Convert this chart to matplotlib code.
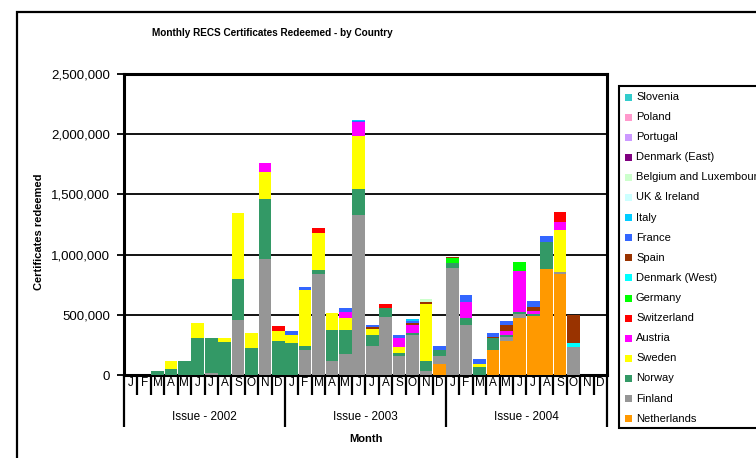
import matplotlib
matplotlib.use('Agg')
import matplotlib.pyplot as plt
from matplotlib.patches import Rectangle
from matplotlib.ticker import FuncFormatter, MultipleLocator
import matplotlib.transforms as mtrans
import numpy as np

plt.rcParams['font.family'] = ['Liberation Sans', 'DejaVu Sans']

# ---------------- data ----------------
month_labels = list("JFMAMJJASOND") * 3
year_labels = ["Issue - 2002", "Issue - 2003", "Issue - 2004"]

Z = [0] * 12
netherlands = Z + [0, 0, 0, 0, 0, 0, 0, 0, 0, 0, 0, 92000] + \
    [0, 0, 0, 207000, 280000, 475000, 487000, 878000, 839000, 0, 0, 0]
finland = [0, 0, 0, 0, 0, 0, 15000, 0, 459000, 0, 962000, 0] + \
    [0, 204000, 842000, 120000, 171000, 1328000, 238000, 484000, 154000, 333000, 31000, 62000] + \
    [889000, 419000, 0, 0, 38000, 28000, 0, 0, 17000, 235000, 0, 0]
norway = [0, 0, 35000, 50000, 120000, 308000, 290000, 271000, 335000, 224000, 503000, 285000] + \
    [265000, 34000, 33000, 252000, 201000, 218000, 95000, 72000, 28000, 17000, 84000, 50000] + \
    [39000, 51000, 67000, 100000, 17000, 17000, 16000, 224000, 0, 0, 0, 0]
sweden = [0, 0, 0, 67000, 0, 128000, 0, 34000, 548000, 128000, 218000, 84000] + \
    [67000, 470000, 302000, 145000, 101000, 437000, 50000, 0, 50000, 0, 475000, 0] + \
    [0, 0, 28000, 0, 0, 0, 0, 0, 346000, 0, 0, 0]
austria = [0, 0, 0, 0, 0, 0, 0, 0, 0, 0, 79000, 0] + \
    [0, 0, 0, 0, 50000, 117000, 0, 0, 73000, 67000, 0, 0] + \
    [0, 134000, 0, 0, 34000, 341000, 28000, 0, 68000, 0, 0, 0]
switzerland = [0, 0, 0, 0, 0, 0, 0, 0, 0, 0, 0, 34000] + \
    [0, 0, 45000, 0, 0, 0, 0, 34000, 0, 0, 0, 0] + \
    [0, 0, 0, 0, 0, 0, 0, 0, 84000, 0, 0, 0]
germany = Z + Z + [45000, 0, 0, 0, 0, 79000, 0, 5000, 0, 0, 0, 0]
denmark_west = Z + Z + [0, 0, 0, 0, 0, 0, 0, 0, 0, 28000, 0, 0]
spain = Z + [0, 0, 0, 0, 0, 0, 17000, 0, 0, 16000, 17000, 0] + \
    [6000, 0, 0, 11000, 50000, 0, 34000, 0, 0, 234000, 0, 0]
france = Z + [33000, 27000, 0, 0, 33000, 8000, 17000, 0, 28000, 17000, 0, 34000] + \
    [0, 61000, 34000, 28000, 28000, 0, 50000, 50000, 0, 0, 0, 0]
italy = Z + [0, 0, 0, 0, 0, 14000, 0, 0, 0, 17000, 0, 0] + Z
uk_ireland = Z * 3
belgium_lux = Z + [0, 0, 0, 0, 0, 0, 0, 0, 0, 0, 22000, 0] + Z
denmark_east = Z * 3
portugal = Z * 3
poland = Z * 3
slovenia = Z * 3

# stacking order (bottom -> top)
countries = ["Netherlands", "Finland", "Norway", "Sweden", "Austria", "Switzerland",
             "Germany", "Denmark (West)", "Spain", "France", "Italy", "UK & Ireland",
             "Belgium and Luxembourg", "Denmark (East)", "Portugal", "Poland", "Slovenia"]
values = [netherlands, finland, norway, sweden, austria, switzerland, germany,
          denmark_west, spain, france, italy, uk_ireland, belgium_lux,
          denmark_east, portugal, poland, slovenia]
colors = ["#FF9900", "#969696", "#339966", "#FFFF00", "#FF00FF", "#FF0000",
          "#00FF00", "#00FFFF", "#993300", "#3366FF", "#00CCFF", "#CCFFFF",
          "#CCFFCC", "#800080", "#CC99FF", "#FF99CC", "#33CCCC"]

# ---------------- figure ----------------
W, H = 756, 458
fig = plt.figure(figsize=(W / 100, H / 100), dpi=100)
fig.patch.set_facecolor('white')

def fx(px):
    return px / W

def fy(py):
    return 1 - py / H

L, R, T, B = 124, 607, 74, 375
ax = fig.add_axes([fx(L), fy(B), fx(R - L), (B - T) / H])

x = np.arange(36)
bottom = np.zeros(36)
for name, vals, col in zip(countries, values, colors):
    v = np.array(vals, dtype=float)
    ax.bar(x, v, bottom=bottom, width=0.94, color=col, edgecolor='none',
           linewidth=0, zorder=3)
    bottom += v

ax.set_xlim(-0.5, 35.5)
ax.set_ylim(0, 2500000)
ax.yaxis.set_major_locator(MultipleLocator(500000))
ax.yaxis.set_major_formatter(FuncFormatter(lambda v, p: f"{int(v):,}"))
ax.grid(axis='y', color='black', linewidth=1.3, zorder=1)
ax.set_axisbelow(True)
for s in ax.spines.values():
    s.set_linewidth(2.2)
    s.set_color('black')
ax.tick_params(axis='y', length=5, width=1.3, pad=5, labelsize=9.5, direction='out')
ax.set_xticks([])

# category axis (two-level)
trans = mtrans.blended_transform_factory(ax.transData, ax.transAxes)
ph = B - T
for i in range(37):
    depth = (427 - B) / ph if i % 12 == 0 else (395 - B) / ph
    ax.plot([i - 0.5, i - 0.5], [0, -depth], color='black', lw=1.6,
            transform=trans, clip_on=False, solid_capstyle='butt')
for i, m in enumerate(month_labels):
    ax.text(i, -(383 - B) / ph, m, transform=trans, ha='center', va='center',
            fontsize=8.5)
for j, yl in enumerate(year_labels):
    ax.text(j * 12 + 5.5, -(417 - B) / ph, yl, transform=trans, ha='center',
            va='center', fontsize=8.5)

# labels and title
fig.text(fx(272), fy(33), "Monthly RECS Certificates Redeemed - by Country",
         ha='center', va='center', fontsize=7.2, fontweight='bold')
fig.text(fx(366), fy(439), "Month", ha='center', va='center', fontsize=8,
         fontweight='bold')
fig.text(fx(39), fy(232), "Certificates redeemed", ha='center', va='center',
         fontsize=8, fontweight='bold', rotation=90)

# outer chart border
fig.patches.append(Rectangle((fx(17), -0.2), 2, fy(12) + 0.2, fill=False,
                             edgecolor='black', linewidth=1.6,
                             transform=fig.transFigure, figure=fig))

# legend
fig.patches.append(Rectangle((fx(619), fy(428)), 1, (428 - 86) / H,
                             facecolor='white', edgecolor='black', linewidth=1.5,
                             transform=fig.transFigure, figure=fig, zorder=5))
legend_order = list(range(len(countries)))[::-1]
for k, idx in enumerate(legend_order):
    yc = 97 + 20.1 * k
    fig.patches.append(Rectangle((fx(625), fy(yc + 3.5)), 7 / W, 7 / H,
                                 facecolor=colors[idx], edgecolor='none',
                                 transform=fig.transFigure, figure=fig, zorder=6))
    fig.text(fx(636), fy(yc), countries[idx], ha='left', va='center',
             fontsize=8, zorder=7)

fig.savefig('out.png', dpi=100)
